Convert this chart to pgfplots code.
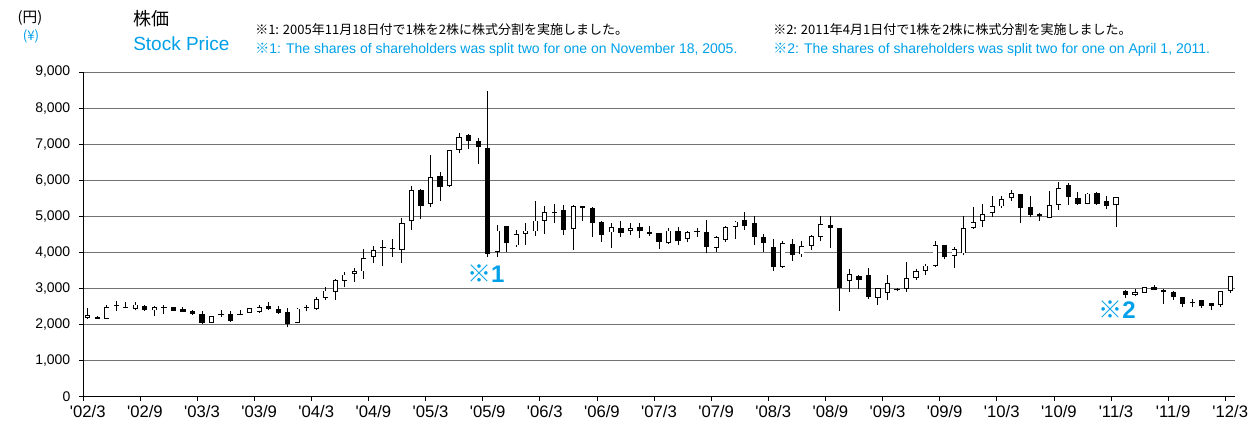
\documentclass[border=0pt]{standalone}
\usepackage{fontspec}
\usepackage{pgfplots}
\usepackage{pgfplotstable}
\pgfplotsset{compat=1.18}
\setmainfont{Liberation Sans}
\newfontfamily\jp{Noto Sans CJK JP}
\definecolor{cblue}{RGB}{0,160,233}
\newcommand{\q}{\textquotesingle}

\pgfplotstableread{
x O H L C
0 2180 2450 2160 2250
1 2210 2220 2150 2160
2 2160 2550 2140 2490
3 2520 2660 2370 2540
4 2490 2620 2450 2470
5 2440 2620 2390 2550
6 2520 2530 2380 2390
7 2390 2500 2220 2480
8 2470 2550 2290 2490
9 2480 2490 2370 2380
10 2420 2470 2330 2340
11 2360 2390 2270 2290
12 2290 2360 2010 2040
13 2050 2230 2040 2220
14 2250 2390 2200 2280
15 2290 2360 2080 2100
16 2260 2410 2250 2280
17 2320 2460 2310 2450
18 2350 2530 2320 2480
19 2520 2610 2410 2430
20 2430 2500 2300 2310
21 2330 2450 1920 2020
22 2040 2450 2030 2440
23 2490 2540 2360 2470
24 2440 2760 2410 2710
25 2740 3030 2670 2940
26 2900 3260 2670 3220
27 3200 3450 3030 3380
28 3400 3560 3170 3470
29 3470 4080 3260 3830
30 3880 4170 3700 4060
31 4150 4340 3610 4130
32 4120 4370 3870 4100
33 4070 4940 3700 4800
34 4860 5840 4620 5720
35 5720 5750 4920 5270
36 5340 6690 5260 6090
37 6120 6230 5430 5820
38 5830 6850 5820 6830
39 6830 7300 6740 7200
40 7240 7270 6860 7090
41 7100 7180 6460 6930
42 6900 8470 3870 3960
43 4000 4760 3880 4600
44 4720 4730 4000 4250
45 4190 4620 4150 4510
46 4510 4800 4210 4600
47 4580 5410 4460 4880
48 4880 5290 4510 5120
49 5120 5350 4800 5080
50 5180 5310 4480 4620
51 4650 5300 4070 5290
52 5240 5290 4880 5270
53 5220 5260 4420 4800
54 4850 4880 4280 4490
55 4550 4800 4120 4710
56 4670 4860 4420 4530
57 4600 4800 4480 4660
58 4710 4800 4400 4580
59 4570 4720 4460 4510
60 4530 4540 4090 4280
61 4250 4670 4230 4600
62 4600 4700 4190 4300
63 4370 4580 4280 4550
64 4570 4670 4430 4590
65 4570 4890 3970 4140
66 4120 4440 4000 4430
67 4340 4740 4280 4710
68 4710 4860 4370 4850
69 4890 5130 4630 4740
70 4800 5010 4190 4430
71 4430 4510 4000 4250
72 4140 4370 3490 3590
73 3590 4300 3570 4250
74 4230 4370 3770 3930
75 3940 4320 3870 4180
76 4180 4490 4050 4460
77 4430 5010 4300 4780
78 4760 5010 4120 4670
79 4660 4670 2380 3020
80 3200 3540 2890 3400
81 3350 3360 2980 3240
82 3380 3570 2700 2760
83 2740 3010 2550 3000
84 2870 3360 2670 3140
85 2980 3000 2930 2950
86 2990 3740 2900 3290
87 3290 3540 3240 3490
88 3480 3680 3360 3630
89 3630 4310 3600 4200
90 4200 4210 3800 3860
91 3910 4160 3570 4090
92 3970 5010 3930 4660
93 4670 5260 4650 4830
94 4880 5330 4710 5060
95 5090 5570 4990 5270
96 5270 5550 5240 5470
97 5500 5740 5420 5640
98 5610 5620 4810 5240
99 5260 5550 4980 5040
100 5050 5100 4870 5000
101 4950 5700 4940 5310
102 5320 5940 5180 5780
103 5870 5910 5320 5540
104 5500 5660 5320 5340
105 5340 5640 5330 5630
106 5650 5680 5320 5350
107 5410 5570 5200 5290
108 5320 5530 4710 5520
109 2940 2960 2740 2820
110 2820 2990 2780 2890
111 2880 3050 2870 3030
112 3050 3080 2950 2960
113 2960 2990 2570 2890
114 2910 2920 2670 2760
115 2760 2770 2480 2570
116 2590 2710 2480 2610
117 2670 2680 2460 2500
118 2590 2600 2410 2510
119 2530 2930 2480 2920
120 2940 3340 2880 3330
}\candles

\begin{document}
\begin{tikzpicture}
\path[use as bounding box] (0,0) rectangle (937.5pt,-319.5pt);

% header texts (positions in px * 0.75pt)
\node[anchor=center, inner sep=0pt, font=\jp\fontsize{11}{11}\selectfont] at (30*0.75pt,-18*0.75pt) {(円)};
\node[anchor=center, inner sep=0pt, text=cblue, font=\jp\fontsize{10}{10}\selectfont] at (31*0.75pt,-36*0.75pt) {(¥)};
\node[anchor=west, inner sep=0pt, font=\jp\fontsize{13.5}{13.5}\selectfont] at (133*0.75pt,-19*0.75pt) {株価};
\node[anchor=west, inner sep=0pt, text=cblue, font=\fontsize{14.25}{14.25}\selectfont] at (133*0.75pt,-44*0.75pt) {Stock Price};
\node[anchor=west, inner sep=0pt, font=\jp\fontsize{9.75}{9.75}\selectfont] at (255*0.75pt,-30*0.75pt) {※1: 2005年11月18日付で1株を2株に株式分割を実施しました。};
\node[anchor=west, inner sep=0pt, text=cblue, font=\fontsize{10.5}{10.5}\selectfont] at (255*0.75pt,-50*0.75pt) {{\jp ※}1: The shares of shareholders was split two for one on November 18, 2005.};
\node[anchor=west, inner sep=0pt, font=\jp\fontsize{9.75}{9.75}\selectfont] at (773*0.75pt,-30*0.75pt) {※2: 2011年4月1日付で1株を2株に株式分割を実施しました。};
\node[anchor=west, inner sep=0pt, text=cblue, font=\fontsize{10.5}{10.5}\selectfont] at (773*0.75pt,-50*0.75pt) {{\jp ※}2: The shares of shareholders was split two for one on April 1, 2011.};

\begin{axis}[
  at={(62.25pt,-297.375pt)}, anchor=south west,
  width=864pt, height=243.375pt, scale only axis,
  xmin=-0.5, xmax=120.5, ymin=0, ymax=9000,
  axis lines=left,
  axis line style={-, black, line width=0.75pt},
  ytick={0,1000,...,9000},
  ymajorgrids, grid style={black!55, line width=0.75pt},
  xtick={-0.5,5.5,...,119.5},
  xticklabels={\q02/3,\q02/9,\q03/3,\q03/9,\q04/3,\q04/9,\q05/3,\q05/9,\q06/3,\q06/9,\q07/3,\q07/9,\q08/3,\q08/9,\q09/3,\q09/9,\q10/3,\q10/9,\q11/3,\q11/9,\q12/3},
  xticklabel style={xshift=3.57pt, font=\fontsize{12.5}{12.5}\selectfont},
  yticklabel style={font=\fontsize{10.5}{10.5}\selectfont, xshift=-3pt},
  scaled y ticks=false,
  /pgf/number format/.cd, 1000 sep={,}, assume math mode=true, /pgfplots/.cd,
  tick align=outside, major tick length=3pt,
  tick style={black, line width=0.75pt},
  clip=false,
]
% wicks
\addplot[draw=none, mark=none, forget plot,
  error bars/.cd, y dir=plus, y explicit, error mark=none,
  error bar style={draw=black, solid, line width=0.75pt}]
  table[x=x, y=L, y error expr={\thisrow{H}-\thisrow{L}}] {\candles};
% bodies (black outline / black fill)
\addplot[draw=none, mark=none, forget plot,
  error bars/.cd, y dir=plus, y explicit, error mark=none,
  error bar style={draw=black, solid, line width=3.9pt}]
  table[x=x, y expr={min(\thisrow{O},\thisrow{C})}, y error expr={abs(\thisrow{C}-\thisrow{O})}] {\candles};
% hollow interior of rising candles
\addplot[draw=none, mark=none, forget plot,
  error bars/.cd, y dir=plus, y explicit, error mark=none,
  error bar style={draw=white, solid, line width=2.6pt}]
  table[x=x, y expr={\thisrow{O}+23}, y error expr={max(\thisrow{C}-\thisrow{O}-46,0)}] {\candles};

\node[text=cblue, inner sep=0pt, font=\bfseries\fontsize{18}{18}\selectfont] at (axis cs:41.8,3411) {{\jp\bfseries ※}1};
\node[text=cblue, inner sep=0pt, font=\bfseries\fontsize{18}{18}\selectfont] at (axis cs:108.1,2417) {{\jp\bfseries ※}2};
\end{axis}
\end{tikzpicture}
\end{document}
